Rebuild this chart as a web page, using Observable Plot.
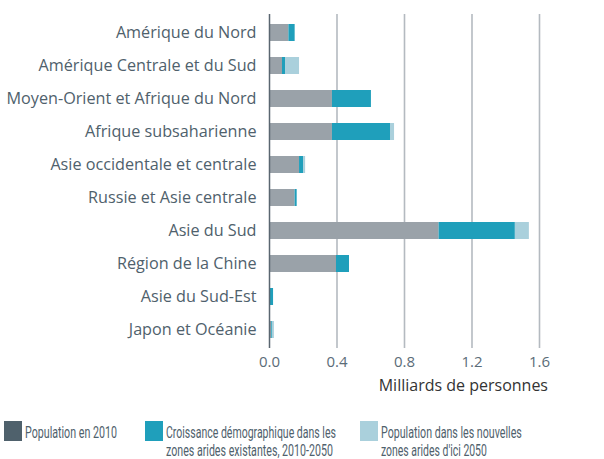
<!DOCTYPE html>
<html><head><meta charset="utf-8">
<script src="https://cdn.jsdelivr.net/npm/d3@7"></script>
<script src="https://cdn.jsdelivr.net/npm/@observablehq/plot@0.6"></script>
<style>
body{margin:0;background:#fff;width:604px;height:459px;overflow:hidden;font-family:"Open Sans",sans-serif;position:relative;}
#legend{position:absolute;top:400px;left:0;}
</style></head>
<body>
<div id="chart"></div>
<div id="legend"></div>
<script>
const regions = ["Amérique du Nord","Amérique Centrale et du Sud","Moyen-Orient et Afrique du Nord","Afrique subsaharienne","Asie occidentale et centrale","Russie et Asie centrale","Asie du Sud","Région de la Chine","Asie du Sud-Est","Japon et Océanie"];
const pop2010 = [0.115,0.077,0.373,0.373,0.178,0.152,1.005,0.397,0.003,0.012];
const growth  = [0.037,0.018,0.231,0.344,0.024,0.012,0.452,0.077,0.021,0.005];
const newArid = [0.000,0.083,0.000,0.024,0.012,0.000,0.083,0.000,0.000,0.012];
const seriesNames = ["Population en 2010","Croissance démographique dans les zones arides existantes, 2010-2050","Population dans les nouvelles zones arides d'ici 2050"];
const seriesLegend = [["Population en 2010"],["Croissance démographique dans les","zones arides existantes, 2010-2050"],["Population dans les nouvelles","zones arides d'ici 2050"]];
const barColors = ["#9aa2a9","#1f9fbb","#aad0dc"];
const legendColors = ["#4f616c","#1f9fbb","#aad0dc"];
const xTicks = [0,0.4,0.8,1.2,1.6];
const xLabel = "Milliards de personnes";

const rows = [];
const cols = [pop2010, growth, newArid];
regions.forEach((r,i)=>cols.forEach((c,j)=>rows.push({region:r, series:seriesNames[j], value:c[i]})));

const plot = Plot.plot({
  width:604, height:400,
  marginLeft:269, marginRight:65, marginTop:14, marginBottom:52,
  style:{fontFamily:'"Open Sans",sans-serif', fontSize:"15px", color:"#4f616c", background:"#fff"},
  x:{domain:[0,1.6], ticks:xTicks, tickFormat:d3.format(".1f"), label:null},
  y:{domain:regions, paddingInner:0.49, paddingOuter:0.245, label:null},
  color:{domain:seriesNames, range:barColors},
  marks:[
    Plot.ruleX(xTicks.slice(1), {stroke:"#b4bac0", strokeWidth:1.6}),
    Plot.barX(rows, Plot.stackX({y:"region", x:"value", fill:"series", order:seriesNames})),
    Plot.ruleX([0], {stroke:"#5a6670", strokeWidth:1.5}),
    Plot.axisY({tickSize:0, tickPadding:13, fontSize:16.2, fill:"#4f616c"}),
    Plot.axisX({ticks:xTicks, tickSize:0, tickPadding:8, fill:"#5b6c78", fontSize:15, tickFormat:d3.format(".1f"), label:null})
  ]
});
const svg = d3.select(plot);
svg.append("text").attr("x",548).attr("y",391).attr("text-anchor","end")
  .attr("fill","#333").attr("font-size","16px").attr("font-family",'"Open Sans",sans-serif').text(xLabel);
document.getElementById("chart").appendChild(plot);

// legend (below the plot SVG)
const lx = [4,145,360];
const lineW = [[92],[170,167],[141,106]];
const lsvg = d3.select("#legend").append("svg").attr("width",604).attr("height",59)
  .style("display","block").attr("font-family","Roboto,sans-serif").attr("font-size",16).attr("fill","#4f616c");
seriesLegend.forEach((lines,i)=>{
  const g = lsvg.append("g").attr("transform",`translate(${lx[i]},21)`);
  g.append("rect").attr("width",18).attr("height",20).attr("fill",legendColors[i]);
  lines.forEach((s,k)=>{
    const t = g.append("g").attr("transform",`translate(21,${17+k*18})`).append("text").text(s);
    const w = t.node().getComputedTextLength();
    t.attr("transform",`scale(${lineW[i][k]/w},1)`);
  });
});
</script>
</body></html>
